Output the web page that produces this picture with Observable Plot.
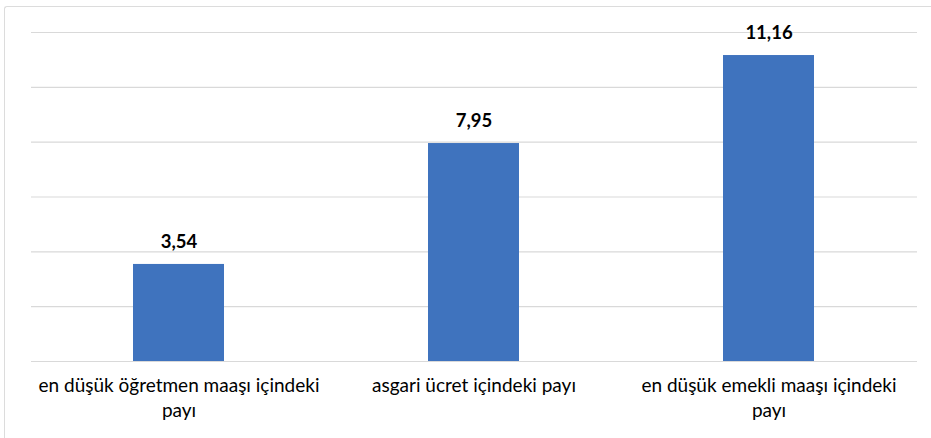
<!DOCTYPE html>
<html>
<head>
<meta charset="utf-8">
<script src="https://cdn.jsdelivr.net/npm/d3@7"></script>
<script src="https://cdn.jsdelivr.net/npm/@observablehq/plot@0.6"></script>
<style>
  html, body { margin: 0; padding: 0; background: #fff; }
  #wrap { position: relative; width: 931px; height: 438px; overflow: hidden; }
  #frame { position: absolute; left: 4px; top: 6px; width: 940px; height: 450px;
           border-top: 1px solid #dcdcdc; border-left: 1px solid #dcdcdc; border-top-left-radius: 3px; }
  #chart { position: absolute; left: 0; top: 0; }
</style>
</head>
<body>
<div id="wrap"><div id="frame"></div><div id="chart"></div></div>
<script>
const categories = [
  "en düşük öğretmen maaşı içindeki\npayı",
  "asgari ücret içindeki payı",
  "en düşük emekli maaşı içindeki\npayı"
];
const values = [3.54, 7.95, 11.16];
const gridTicks = [0, 2, 4, 6, 8, 10, 12];

const data = categories.map((c, i) => ({category: c, value: values[i]}));
const fmt = v => v.toFixed(2).replace(".", ",");

const chart = Plot.plot({
  width: 931,
  height: 438,
  marginLeft: 31,
  marginRight: 14,
  marginTop: 32,
  marginBottom: 77,
  style: {fontFamily: "Lato, 'Open Sans', sans-serif", background: "transparent", overflow: "visible"},
  x: {domain: categories, paddingInner: 0.69, paddingOuter: 0.345, label: null},
  y: {domain: [0, 12], axis: null},
  marks: [
    Plot.ruleY(gridTicks, {stroke: "#d9d9d9", strokeWidth: 1.2, strokeOpacity: 1}),
    Plot.barY(data, {x: "category", y: "value", fill: "#3F73BE"}),
    Plot.text(data, {x: "category", y: "value", text: d => fmt(d.value), dy: -22,
      fontSize: 18.5, fontWeight: "bold", fill: "#000", lineAnchor: "middle"}),
    Plot.axisX({tickSize: 0, tickPadding: 13, fontSize: 19, lineHeight: 1.32, fill: "#000", label: null})
  ]
});
document.getElementById("chart").appendChild(chart);
</script>
</body>
</html>
